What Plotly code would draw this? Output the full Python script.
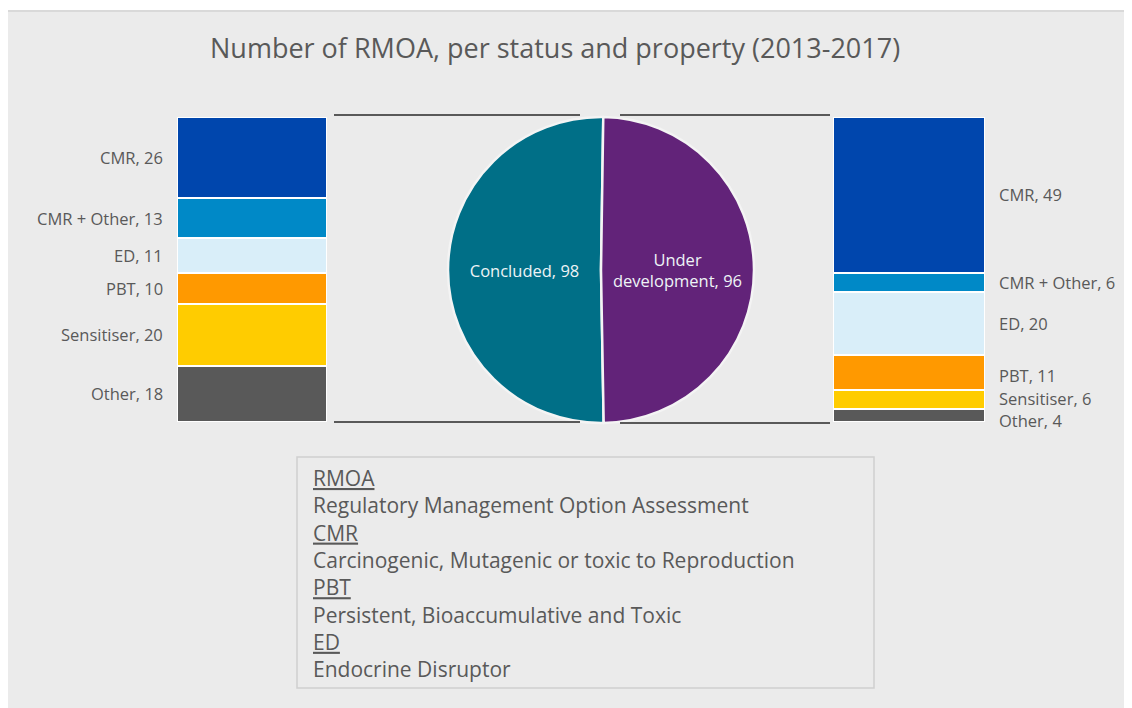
import numpy as np
import plotly.graph_objects as go

# ---------------- data ----------------
categories = ["CMR", "CMR + Other", "ED", "PBT", "Sensitiser", "Other"]
concluded_values = [26, 13, 11, 10, 20, 18]
under_dev_values = [49, 6, 20, 11, 6, 4]
status_labels = ["Concluded", "Under development"]
status_values = [98, 96]
status_text = ["Concluded, 98", "Under<br>development, 96"]
title_text = "Number of RMOA, per status and property (2013-2017)"
glossary_terms = ["RMOA", "CMR", "PBT", "ED"]
glossary_defs = ["Regulatory Management Option Assessment",
                 "Carcinogenic, Mutagenic or toxic to Reproduction",
                 "Persistent, Bioaccumulative and Toxic",
                 "Endocrine Disruptor"]

# ---------------- styles ----------------
OFF = 8                      # page body margin
W, H = 1132 - OFF, 708 - OFF
cat_colors = ["#0046ad", "#0089c7", "#d9eef9", "#ff9900", "#ffcc00", "#595959"]
pie_colors = ["#006f87", "#622379"]
txt_col = "#595959"
FONT = "Open Sans"

def px_x(p):
    return (p - OFF) / W

def px_y(p):
    return 1 - (p - OFF) / H

fig = go.Figure()

for i, cat in enumerate(categories):
    fig.add_trace(go.Bar(x=[0], y=[concluded_values[i]], name=cat,
                         marker=dict(color=cat_colors[i], line=dict(color="white", width=2)),
                         xaxis="x", yaxis="y", showlegend=False, hoverinfo="skip", width=1))
    fig.add_trace(go.Bar(x=[0], y=[under_dev_values[i]], name=cat,
                         marker=dict(color=cat_colors[i], line=dict(color="white", width=2)),
                         xaxis="x2", yaxis="y2", showlegend=False, hoverinfo="skip", width=1))

fig.add_trace(go.Pie(values=status_values, labels=status_labels, text=status_text,
                     textinfo="text", sort=False, direction="clockwise", rotation=179,
                     marker=dict(colors=pie_colors, line=dict(color="#f4f4f4", width=2.5)),
                     textposition="inside", insidetextorientation="horizontal",
                     textfont=dict(color="#eef4f6", size=16.5, family=FONT),
                     domain=dict(x=[px_x(448), px_x(754)], y=[px_y(423), px_y(117)]),
                     showlegend=False, hoverinfo="skip"))

ydom = [px_y(422), px_y(117)]
fig.update_layout(
    width=W, height=H, margin=dict(l=0, r=0, t=0, b=0),
    paper_bgcolor="white", plot_bgcolor="rgba(0,0,0,0)",
    barmode="stack", bargap=0,
    xaxis=dict(domain=[px_x(177), px_x(327)], range=[-0.5, 0.5], visible=False),
    yaxis=dict(domain=ydom, range=[sum(concluded_values), 0], visible=False, anchor="x"),
    xaxis2=dict(domain=[px_x(833), px_x(985)], range=[-0.5, 0.5], visible=False),
    yaxis2=dict(domain=ydom, range=[sum(under_dev_values), 0], visible=False, anchor="x2"),
    font=dict(family=FONT, color=txt_col),
)

shapes = [
    dict(type="rect", xref="paper", yref="paper", x0=px_x(7), x1=1.0, y0=0, y1=px_y(10),
         fillcolor="#ebebeb", line=dict(width=0), layer="below"),
    dict(type="line", xref="paper", yref="paper", x0=px_x(7), x1=1.0, y0=px_y(11), y1=px_y(11),
         line=dict(color="#d9d9d9", width=2), layer="below"),
    dict(type="rect", xref="paper", yref="paper", x0=px_x(297), x1=px_x(874), y0=px_y(688), y1=px_y(457),
         line=dict(color="#d0d0d0", width=1.5), fillcolor="rgba(0,0,0,0)"),
]
for (xa, xb, yy) in [(334, 580, 115), (334, 580, 422), (620, 830, 115), (620, 830, 423)]:
    shapes.append(dict(type="line", xref="paper", yref="paper", x0=px_x(xa), x1=px_x(xb),
                       y0=px_y(yy), y1=px_y(yy), line=dict(color="#595959", width=2)))

annotations = [dict(text=title_text, xref="paper", yref="paper", x=px_x(555), y=px_y(47),
                    showarrow=False, font=dict(size=27, color=txt_col, family=FONT),
                    xanchor="center", yanchor="middle")]

LBL = 16.5
cl = np.cumsum(concluded_values)
mid_l = cl - np.array(concluded_values) / 2
for cat, v, m in zip(categories, concluded_values, mid_l):
    annotations.append(dict(text=f"{cat}, {v}", xref="paper", yref="y", x=px_x(165), y=m,
                            xanchor="right", yanchor="middle", showarrow=False,
                            font=dict(size=LBL, color=txt_col, family=FONT)))
cr = np.cumsum(under_dev_values)
mid_r = cr - np.array(under_dev_values) / 2
nudge_r = [0, 0, 0, -3, 1, -5]
for cat, v, m, s in zip(categories, under_dev_values, mid_r, nudge_r):
    annotations.append(dict(text=f"{cat}, {v}", xref="paper", yref="y2", x=px_x(997), y=m,
                            xanchor="left", yanchor="middle", showarrow=False, yshift=s,
                            font=dict(size=LBL, color=txt_col, family=FONT)))

lines = []
for t, d in zip(glossary_terms, glossary_defs):
    lines.append(f"<u>{t}</u>")
    lines.append(d)
annotations.append(dict(text="<br>".join(lines), xref="paper", yref="paper", x=px_x(311), y=px_y(573),
                        xanchor="left", yanchor="middle", align="left", showarrow=False,
                        font=dict(size=21, color=txt_col, family=FONT)))

fig.update_layout(shapes=shapes, annotations=annotations)
fig.write_html("out.html")
